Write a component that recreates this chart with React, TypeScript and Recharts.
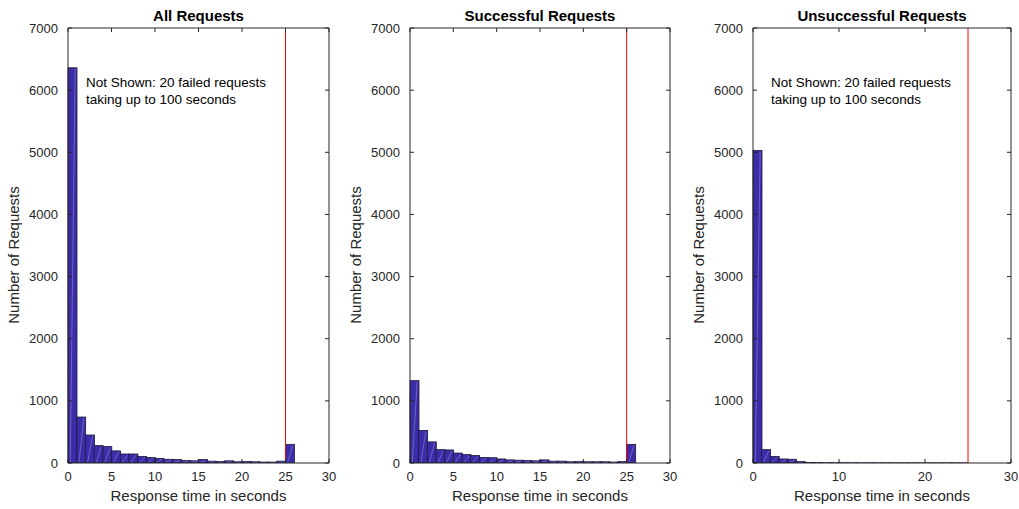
import React from 'react';
import { BarChart, Bar, XAxis, YAxis, ReferenceLine } from 'recharts';

// histogram bins are 1 second wide, starting at these values
const binStarts = [0, 1, 2, 3, 4, 5, 6, 7, 8, 9, 10, 11, 12, 13, 14, 15, 16, 17, 18, 19, 20, 21, 22, 23, 24, 25, 26, 27, 28, 29];

const allCounts = [6360, 740, 450, 280, 265, 195, 145, 145, 105, 90, 75, 60, 55, 40, 35, 55, 30, 25, 35, 20, 25, 20, 15, 15, 30, 300, 0, 0, 0, 0];
const successCounts = [1325, 525, 340, 215, 210, 160, 135, 120, 90, 85, 65, 50, 45, 40, 35, 50, 30, 30, 20, 25, 20, 20, 20, 15, 25, 300, 0, 0, 0, 0];
const failedCounts = [5030, 215, 105, 65, 60, 25, 10, 8, 5, 5, 4, 4, 3, 3, 3, 3, 2, 2, 2, 2, 2, 2, 2, 2, 2, 0, 0, 0, 0, 0];

const yTicks = [0, 1000, 2000, 3000, 4000, 5000, 6000, 7000];
const xTicksFine = [0, 5, 10, 15, 20, 25, 30];
const xTicksCoarse = [0, 10, 20, 30];
const xDomain = [0, 30];
const cutoffSeconds = 25;
const noteLines = ['Not Shown: 20 failed requests', 'taking up to 100 seconds'];

const FONT = '"Liberation Sans", Arial, Helvetica, sans-serif';
const INK = '#262626';
const PLOT_TOP = 28;
const PLOT_BOTTOM = 463;
const AXIS_W = 68;

const panels = [
  { title: 'All Requests', counts: allCounts, xTicks: xTicksFine, note: true, left: 68, right: 329 },
  { title: 'Successful Requests', counts: successCounts, xTicks: xTicksFine, note: false, left: 410, right: 670 },
  { title: 'Unsuccessful Requests', counts: failedCounts, xTicks: xTicksCoarse, note: true, left: 753, right: 1011 },
];

const HatchedBar = (props: any) => {
  const { x, y, width, height } = props;
  if (!height || height <= 0) return null;
  return (
    <g>
      <rect x={x} y={y} width={width} height={height} fill="#3b2ca8" stroke="#1d1b3c" strokeWidth={0.8} />
      <line
        x1={x + width * 0.25}
        y1={y + height - 1}
        x2={x + width * 0.8}
        y2={y + 1}
        stroke="#8e86d8"
        strokeWidth={0.6}
      />
    </g>
  );
};

const tickStyle = { fontSize: 13, fill: INK, fontFamily: FONT };

function Panel({ p }: { p: (typeof panels)[number] }) {
  const data = binStarts.map((b, i) => ({ bin: b, count: p.counts[i] }));
  const plotW = p.right - p.left;
  const width = plotW + AXIS_W + 14;

  return (
    <div style={{ position: 'absolute', left: p.left - AXIS_W, top: 0, width, height: 509 }}>
      <div
        style={{
          position: 'absolute',
          left: AXIS_W,
          width: plotW,
          top: 8,
          lineHeight: '15px',
          textAlign: 'center',
          fontFamily: FONT,
          fontWeight: 'bold',
          fontSize: 15,
          color: '#000',
        }}
      >
        {p.title}
      </div>
      <BarChart
        width={width}
        height={509}
        data={data}
        margin={{ top: PLOT_TOP - 1, right: 13, bottom: 0, left: 0 }}
        barCategoryGap={0}
        barGap={0}
      >
        <XAxis xAxisId="cat" dataKey="bin" hide height={0} />
        <XAxis
          xAxisId="num"
          dataKey="bin"
          type="number"
          domain={xDomain}
          ticks={p.xTicks}
          allowDataOverflow
          height={509 - PLOT_BOTTOM}
          tickSize={-4}
          tickMargin={13}
          tick={tickStyle}
          interval={0}
          stroke={INK}
          label={(lp: any) => {
            const vb = lp.viewBox;
            return (
              <text
                x={vb.x + vb.width / 2}
                y={501}
                textAnchor="middle"
                fontSize={15}
                fontFamily={FONT}
                fill={INK}
              >
                Response time in seconds
              </text>
            );
          }}
        />
        <XAxis
          xAxisId="top"
          orientation="top"
          dataKey="bin"
          type="number"
          domain={xDomain}
          ticks={p.xTicks}
          allowDataOverflow
          height={1}
          tickSize={-4}
          interval={0}
          tickFormatter={() => ''}
          stroke={INK}
        />
        <YAxis
          yAxisId="left"
          domain={[0, 7000]}
          ticks={yTicks}
          allowDataOverflow
          width={AXIS_W}
          tickSize={-4}
          tickMargin={14}
          tick={tickStyle}
          stroke={INK}
          label={() => {
            const cx = 19;
            const cy = 255;
            return (
              <text
                x={cx}
                y={cy}
                transform={`rotate(-90 ${cx} ${cy})`}
                textAnchor="middle"
                fontSize={15}
                fontFamily={FONT}
                fill={INK}
              >
                Number of Requests
              </text>
            );
          }}
        />
        <YAxis
          yAxisId="right"
          orientation="right"
          domain={[0, 7000]}
          ticks={yTicks}
          allowDataOverflow
          width={1}
          tickSize={-4}
          tickFormatter={() => ''}
          stroke={INK}
        />
        <Bar
          xAxisId="cat"
          yAxisId="left"
          dataKey="count"
          shape={HatchedBar}
          isAnimationActive={false}
        />
        <ReferenceLine xAxisId="num" yAxisId="left" x={cutoffSeconds} stroke="#ff0000" strokeWidth={1} />
      </BarChart>
      {p.note && (
        <div
          style={{
            position: 'absolute',
            left: AXIS_W + 18,
            top: 74,
            fontFamily: FONT,
            fontSize: 13.5,
            lineHeight: '17px',
            color: '#000',
            whiteSpace: 'pre',
          }}
        >
          {noteLines.join('\n')}
        </div>
      )}
    </div>
  );
}

export default function App() {
  return (
    <div style={{ position: 'absolute', left: 0, top: 0, width: 1019, height: 509, background: '#fff' }}>
      {panels.map((p) => (
        <Panel key={p.title} p={p} />
      ))}
    </div>
  );
}
